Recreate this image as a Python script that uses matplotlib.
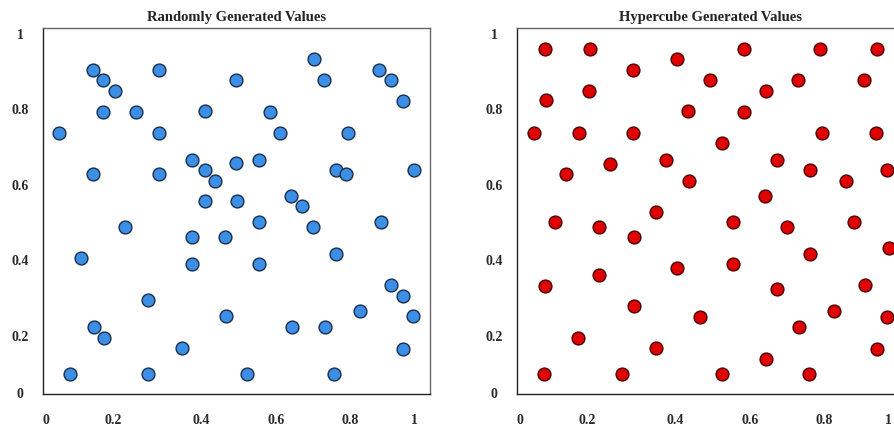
import matplotlib.pyplot as plt

# values
rand_x = [0.036, 0.125, 0.153, 0.183, 0.153, 0.241, 0.301, 0.301, 0.125, 0.301,
          0.424, 0.506, 0.391, 0.424, 0.452, 0.506, 0.569, 0.599, 0.625, 0.715,
          0.743, 0.889, 0.920, 0.952, 0.805, 0.775, 0.802, 0.982, 0.424, 0.509,
          0.654, 0.683, 0.211, 0.389, 0.478, 0.569, 0.712, 0.893, 0.094, 0.391,
          0.569, 0.775, 0.922, 0.953, 0.272, 0.838, 0.980, 0.480, 0.127, 0.155,
          0.657, 0.745, 0.362, 0.953, 0.063, 0.273, 0.537, 0.770]
rand_y = [0.735, 0.902, 0.875, 0.847, 0.791, 0.791, 0.902, 0.736, 0.626, 0.626,
          0.792, 0.875, 0.664, 0.637, 0.608, 0.654, 0.664, 0.791, 0.736, 0.931,
          0.875, 0.902, 0.875, 0.819, 0.736, 0.637, 0.626, 0.637, 0.554, 0.554,
          0.569, 0.542, 0.486, 0.458, 0.458, 0.498, 0.486, 0.498, 0.403, 0.387,
          0.387, 0.415, 0.331, 0.304, 0.293, 0.263, 0.249, 0.249, 0.220, 0.192,
          0.221, 0.221, 0.165, 0.161, 0.097, 0.097, 0.096, 0.097]

hyper_x = [0.066, 0.186, 0.301, 0.419, 0.598, 0.801, 0.954, 0.070, 0.183, 0.507,
           0.657, 0.742, 0.919, 0.448, 0.598, 0.037, 0.157, 0.301, 0.806, 0.950,
           0.538, 0.124, 0.241, 0.391, 0.451, 0.685, 0.775, 0.869, 0.980, 0.654,
           0.362, 0.093, 0.212, 0.305, 0.569, 0.713, 0.892, 0.984, 0.775, 0.418,
           0.569, 0.212, 0.068, 0.685, 0.921, 0.304, 0.480, 0.837, 0.980, 0.745,
           0.154, 0.362, 0.953, 0.657, 0.064, 0.273, 0.538, 0.771]
hyper_y = [0.957, 0.957, 0.902, 0.931, 0.957, 0.957, 0.957, 0.822, 0.847, 0.875,
           0.847, 0.875, 0.875, 0.794, 0.791, 0.735, 0.736, 0.736, 0.735, 0.736,
           0.708, 0.626, 0.653, 0.664, 0.608, 0.664, 0.637, 0.608, 0.637, 0.569,
           0.526, 0.498, 0.486, 0.458, 0.498, 0.486, 0.498, 0.431, 0.415, 0.376,
           0.387, 0.358, 0.329, 0.320, 0.331, 0.275, 0.248, 0.263, 0.248, 0.221,
           0.192, 0.165, 0.161, 0.137, 0.097, 0.097, 0.096, 0.097]

x_labels = ['0', '0.2', '0.4', '0.6', '0.8', '1']
y_labels = ['0', '0.2', '0.4', '0.6', '0.8', '1']

FONT = 'Liberation Serif'
Y_LO, Y_HI = 0.043, 1.013
X_LO, X_HI = -0.008, 1.025
# the labels in the source image sit slightly off an even spacing
X_TICK_POS = [0.0, 0.18, 0.415, 0.614, 0.811, 0.983]
Y_TICK_POS = [Y_LO + 0.006, 0.2, 0.4, 0.6, 0.8, 1.0]


def draw_panel(ax, xs, ys, title, fill, edge):
    ax.scatter(xs, ys, s=85, c=fill, edgecolors=edge, linewidths=1.0, zorder=3)
    ax.set_xlim(X_LO, X_HI)
    ax.set_ylim(Y_LO, Y_HI)
    ax.set_xticks(X_TICK_POS)
    ax.set_xticklabels(x_labels)
    ax.set_yticks(Y_TICK_POS)
    ax.set_yticklabels(y_labels)
    ax.tick_params(axis='x', length=0, pad=13.5, labelcolor='#2a2a2a')
    ax.tick_params(axis='y', length=0, pad=16.5, labelcolor='#2a2a2a')
    for lab in ax.get_xticklabels() + ax.get_yticklabels():
        lab.set_fontfamily(FONT)
        lab.set_fontweight('bold')
        lab.set_fontsize(10)
    for lab in ax.get_yticklabels():
        lab.set_horizontalalignment('center')
    ax.spines['left'].set_color('#222222')
    ax.spines['bottom'].set_color('#222222')
    ax.spines['top'].set_color('#666666')
    ax.spines['right'].set_color('#666666')
    for sp in ax.spines.values():
        sp.set_linewidth(1.0)
    ax.set_title(title, fontfamily=FONT, fontweight='bold', fontsize=10.5,
                 color='#222222', pad=6)


fig = plt.figure(figsize=(8.94, 4.35), dpi=100)
ax1 = fig.add_axes([43 / 894, 40 / 435, 387 / 894, 366 / 435])
ax2 = fig.add_axes([517 / 894, 40 / 435, 387 / 894, 366 / 435])

draw_panel(ax1, rand_x, rand_y, 'Randomly Generated Values', '#3b8fe6', '#1b2f4a')
draw_panel(ax2, hyper_x, hyper_y, 'Hypercube Generated Values', '#e00000', '#4a0000')

fig.savefig('out.png', dpi=100)
